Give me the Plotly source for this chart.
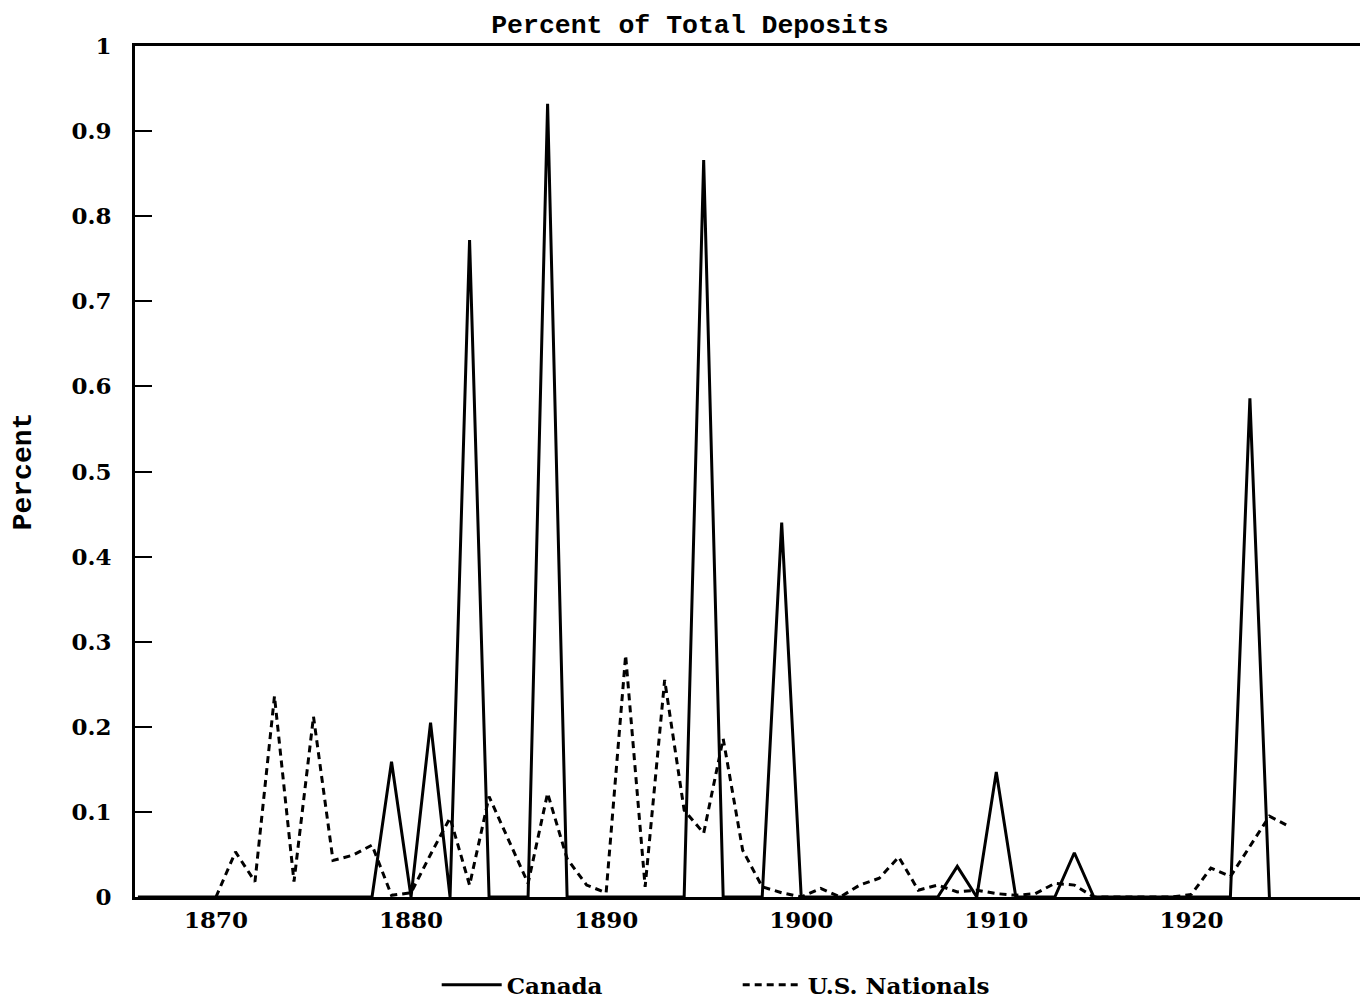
import plotly.graph_objects as go

# Canada: percent of total deposits by year
canada_years = list(range(1866, 1925))
canada_values = [
    0, 0, 0, 0, 0, 0, 0, 0, 0, 0,          # 1866-1875
    0, 0, 0, 0.159, 0, 0.205, 0, 0.772, 0, 0,   # 1876-1885
    0, 0.932, 0, 0, 0, 0, 0, 0, 0, 0.866,   # 1886-1895
    0, 0, 0, 0.44, 0, 0, 0, 0, 0, 0,        # 1896-1905
    0, 0, 0.036, 0, 0.147, 0, 0, 0, 0.052, 0,   # 1906-1915
    0, 0, 0, 0, 0, 0, 0, 0.586, 0,          # 1916-1924
]

# U.S. Nationals
us_years = list(range(1870, 1926))
us_values = [
    0.0, 0.053, 0.018, 0.236, 0.018, 0.212, 0.043, 0.049, 0.061, 0.002,   # 1870-1879
    0.005, 0.05, 0.093, 0.014, 0.118, 0.067, 0.016, 0.122, 0.045, 0.014,  # 1880-1889
    0.005, 0.284, 0.012, 0.255, 0.102, 0.075, 0.186, 0.055, 0.012, 0.005, # 1890-1899
    0.0, 0.01, 0.0, 0.014, 0.022, 0.047, 0.008, 0.014, 0.006, 0.008,      # 1900-1909
    0.004, 0.002, 0.004, 0.016, 0.014, 0.0, 0.0, 0.0, 0.0, 0.0,           # 1910-1919
    0.003, 0.034, 0.024, 0.059, 0.095, 0.083,                             # 1920-1925
]

x_ticks = [1870, 1880, 1890, 1900, 1910, 1920]
y_ticks = [0, 0.1, 0.2, 0.3, 0.4, 0.5, 0.6, 0.7, 0.8, 0.9, 1]
y_tick_labels = ["0", "0.1", "0.2", "0.3", "0.4", "0.5", "0.6", "0.7", "0.8", "0.9", "1"]

serif = "DejaVu Serif"
mono = "Liberation Mono"

W, H = 1360, 995

fig = go.Figure()
fig.add_trace(go.Scatter(
    x=canada_years, y=canada_values, mode="lines", name="Canada",
    line=dict(color="black", width=3),
))
fig.add_trace(go.Scatter(
    x=us_years, y=us_values, mode="lines", name="U.S. Nationals",
    line=dict(color="black", width=3, dash="7px,5px"),
))

fig.update_layout(
    width=W, height=H,
    paper_bgcolor="white", plot_bgcolor="white",
    margin=dict(l=127, r=3, t=38, b=106, autoexpand=False),
    title=dict(
        text="Percent of Total Deposits",
        font=dict(family=mono, size=26.5, color="black", weight="bold"),
        x=(690 - 8) / W, xref="container", xanchor="center",
        y=1 - 16 / H, yref="container", yanchor="middle",
    ),
    showlegend=True,
    legend=dict(
        orientation="h", x=0.49, xanchor="center", xref="paper",
        y=-0.078, yanchor="top",
        font=dict(family=serif, size=23, color="black", weight="bold"),
        entrywidth=226, entrywidthmode="pixels",
        itemwidth=60,
        bgcolor="rgba(0,0,0,0)",
    ),
    xaxis=dict(
        range=[1865.85, 1928.9],
        tickvals=x_ticks, ticktext=[str(v) for v in x_ticks],
        ticks="", showgrid=False, zeroline=False,
        showline=True, linecolor="black", linewidth=3, mirror=True,
        tickfont=dict(family=serif, size=23, color="black", weight="bold"),
        ticklabelstandoff=0,
    ),
    yaxis=dict(
        range=[0, 1],
        tickvals=y_ticks, ticktext=y_tick_labels,
        ticks="inside", ticklen=17, tickwidth=2, tickcolor="black",
        showgrid=False, zeroline=False,
        showline=True, linecolor="black", linewidth=3, mirror=True,
        tickfont=dict(family=serif, size=23, color="black", weight="bold"),
        ticklabelstandoff=16,
        title=dict(text="Percent", font=dict(family=mono, size=28, color="black", weight="bold"),
                   standoff=40),
    ),
)

fig.write_html("out.html")
